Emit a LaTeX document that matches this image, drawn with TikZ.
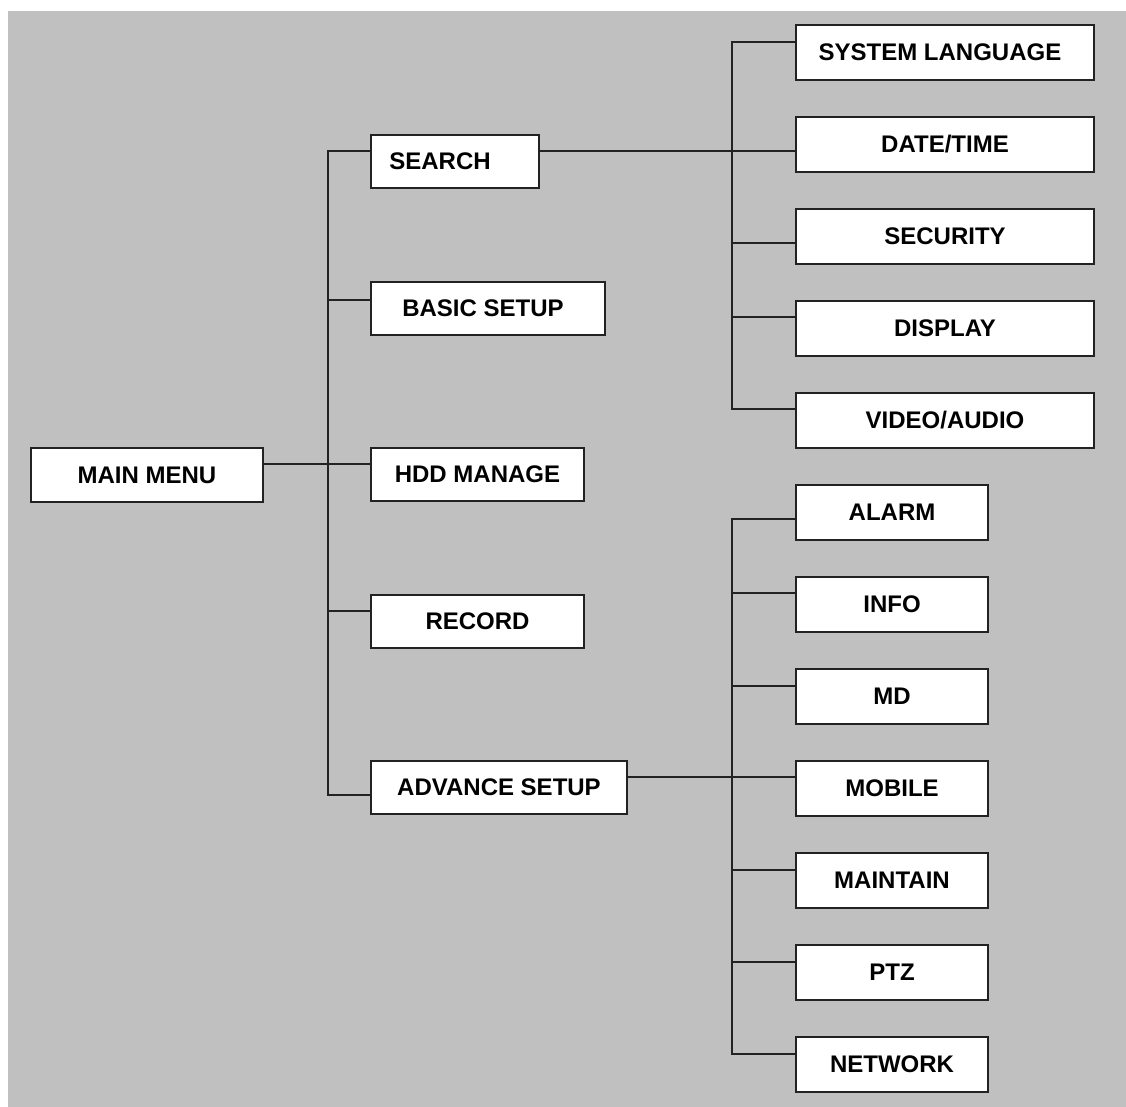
\documentclass[tikz,border=0pt]{standalone}
\usepackage{fontspec}
\setmainfont{Liberation Sans}
\usepackage{xcolor}
\usetikzlibrary{positioning}
\definecolor{bggray}{HTML}{C0C0C0}
\definecolor{inkgray}{HTML}{222222}

\begin{document}
\begin{tikzpicture}[x=0.5pt,y=-0.5pt]
\tikzstyle{menubox} = [rectangle, draw=inkgray, line width=1pt, fill=white, anchor=north west, inner sep=0pt, minimum height=26.5pt, font=\fontsize{12}{14}\selectfont\bfseries, text=black]
\tikzstyle{subbox} = [menubox, minimum height=27.5pt]
\tikzstyle{wire} = [draw=inkgray, line width=1pt, line cap=rect]

\useasboundingbox (0,0) rectangle (1126,1107);
\fill[white] (0,0) rectangle (1126,1107);
\fill[bggray] (8,11) rectangle (1126,1107);

% first level
\node (main) [menubox, minimum width=116pt, minimum height=27pt] at (30,447) {MAIN MENU};

% second level
\node (search) [menubox, minimum width=84pt] at (370,134) {SEARCH\hspace*{15pt}};
\node (basic) [menubox, minimum width=117pt] at (370,281) {BASIC SETUP\hspace*{5pt}};
\node (hdd) [menubox, minimum width=106.5pt] at (370,447) {HDD MANAGE};
\node (record) [menubox, minimum width=106.5pt] at (370,594) {RECORD};
\node (advance) [menubox, minimum width=128pt] at (370,760) {ADVANCE SETUP};

% search setup items
\node (language) [subbox, minimum width=149pt] at (795,24) {SYSTEM LANGUAGE\hspace*{5pt}};
\node (datetime) [subbox, minimum width=149pt] at (795,116) {DATE/TIME};
\node (security) [subbox, minimum width=149pt] at (795,208) {SECURITY};
\node (display) [subbox, minimum width=149pt] at (795,300) {DISPLAY};
\node (video) [subbox, minimum width=149pt] at (795,392) {VIDEO/AUDIO};

% advance setup items
\node (alarm) [subbox, minimum width=96pt] at (795,484) {ALARM};
\node (info) [subbox, minimum width=96pt] at (795,576) {INFO};
\node (md) [subbox, minimum width=96pt] at (795,668) {MD};
\node (mobile) [subbox, minimum width=96pt] at (795,760) {MOBILE};
\node (maintain) [subbox, minimum width=96pt] at (795,852) {MAINTAIN};
\node (ptz) [subbox, minimum width=96pt] at (795,944) {PTZ};
\node (network) [subbox, minimum width=96pt] at (795,1036) {NETWORK};

% trunks
\coordinate (top) at ([xshift=-21pt,yshift=-8.5pt]search.north west);
\coordinate (bot) at ([xshift=-21pt,yshift=-17.5pt]advance.north west);
\coordinate (utop) at ([xshift=-31.5pt,yshift=-9pt]language.north west);
\coordinate (ubot) at ([xshift=-31.5pt,yshift=-8.5pt]video.north west);
\coordinate (ltop) at ([xshift=-31.5pt,yshift=-17.5pt]alarm.north west);
\coordinate (lbot) at ([xshift=-31.5pt,yshift=-9pt]network.north west);
\draw [wire] (top) -- (bot);
\draw [wire] (utop) -- (ubot);
\draw [wire] (ltop) -- (lbot);

% branches
\draw [wire] ([yshift=-8.5pt]main.north east) -- ([yshift=-8.5pt]hdd.north west);
\foreach \n/\d in {basic/9.5, record/8.5}{
  \coordinate (b) at ([yshift=-\d pt]\n.north west);
  \draw [wire] (b) -- (b -| top);
}
\foreach \n/\d in {security/17.5, display/8.5}{
  \coordinate (b) at ([yshift=-\d pt]\n.north west);
  \draw [wire] (b) -- (b -| utop);
}
\foreach \n/\d in {info/8.5, md/9, maintain/9, ptz/9}{
  \coordinate (b) at ([yshift=-\d pt]\n.north west);
  \draw [wire] (b) -- (b -| ltop);
}
\draw [wire] (top) -- ([yshift=-8.5pt]search.north west);
\draw [wire] (bot) -- ([yshift=-17.5pt]advance.north west);
\draw [wire] (utop) -- ([yshift=-9pt]language.north west);
\draw [wire] (ubot) -- ([yshift=-8.5pt]video.north west);
\draw [wire] (ltop) -- ([yshift=-17.5pt]alarm.north west);
\draw [wire] (lbot) -- ([yshift=-9pt]network.north west);
\draw [wire] ([yshift=-8.5pt]search.north east) -- ([yshift=-17.5pt]datetime.north west);
\draw [wire] ([yshift=-8.5pt]advance.north east) -- ([yshift=-8.5pt]mobile.north west);
\end{tikzpicture}
\end{document}
